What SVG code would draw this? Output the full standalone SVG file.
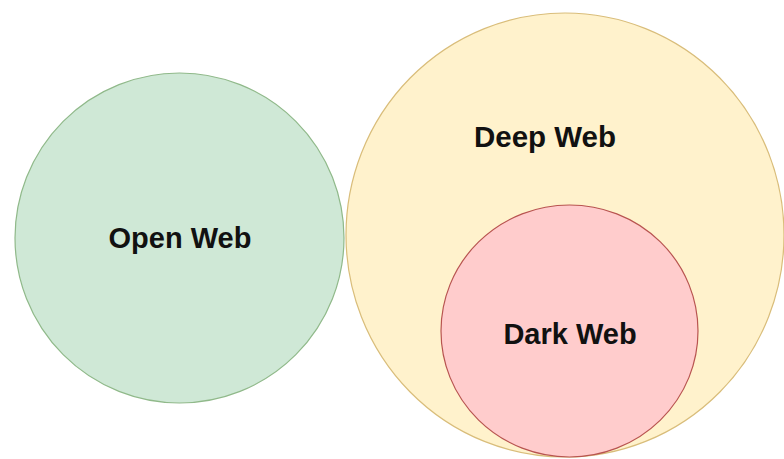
<svg xmlns="http://www.w3.org/2000/svg" width="784" height="459" viewBox="0 0 784 459">
  <style>
    .lbl { font-family: "Liberation Sans", Arial, sans-serif; font-weight: bold; fill: #111111; text-anchor: middle; }
    .open { fill: #cfe8d6; stroke: #90b98a; stroke-width: 1.2; }
    .deep { fill: #fff2cc; stroke: #d9bd7a; stroke-width: 1.2; }
    .dark { fill: #ffcccc; stroke: #b85450; stroke-width: 1.2; }
  </style>
  <rect width="784" height="459" fill="#ffffff"/>
  <g id="open-web">
    <ellipse class="open" cx="179.5" cy="238" rx="164.5" ry="165"/>
    <text class="lbl" x="180" y="248" font-size="29">Open Web</text>
  </g>
  <g id="deep-web">
    <ellipse class="deep" cx="565" cy="235" rx="219" ry="222"/>
    <text class="lbl" x="545" y="147" font-size="29.5">Deep Web</text>
  </g>
  <g id="dark-web">
    <ellipse class="dark" cx="569.5" cy="331" rx="128.5" ry="126"/>
    <text class="lbl" x="570" y="344" font-size="29">Dark Web</text>
  </g>
  <g id="connectors"/>
</svg>
